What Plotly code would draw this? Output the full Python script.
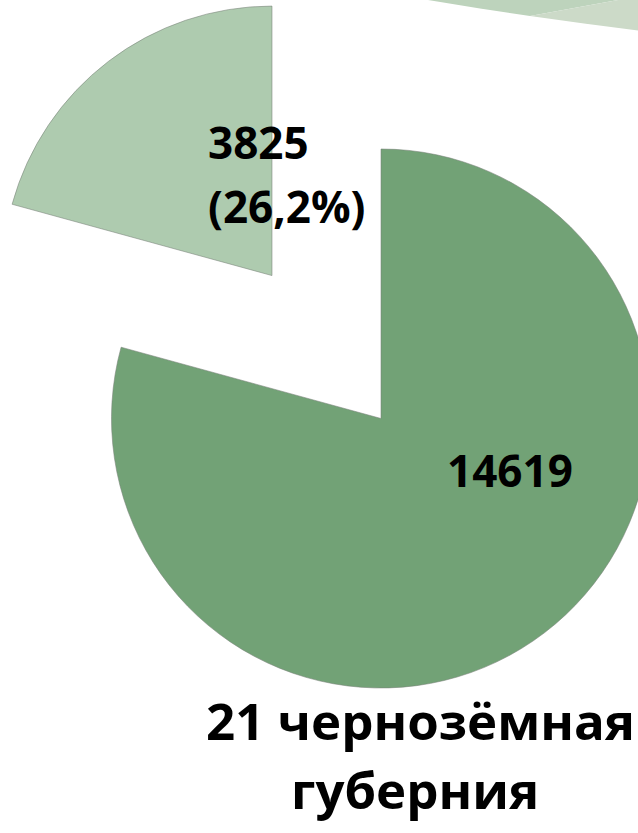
import math
import plotly.graph_objects as go

# ---- data ----
categories = ["Группа B", "Группа A"]
values = [14619, 3825]
value_labels = ["14619", "3825<br>(26,2%)"]
title_lines = ["21 чернозёмная", "губерния"]

# ---- styles ----
DARK = "#72a276"
LIGHT = "#aecbaf"
BORDER = "rgba(120,130,120,0.55)"
CLEAR = "rgba(0,0,0,0)"
FONT = "Open Sans"

W, H = 700, 833
CX, CY, R = 381, 418.5, 269.5
PULL = 0.667


def px(x):
    return x / W


def py(y):
    return 1 - y / H


def domain(cx, cy):
    return dict(x=[px(cx - R), px(cx + R)], y=[py(cy + R), py(cy - R)])


# offset of the pulled-out slice, from its share of the total (it ends at 12 o'clock)
half = math.pi * values[1] / sum(values)
dx = -PULL * R * math.sin(half)
dy = -PULL * R * math.cos(half)

common = dict(values=values, labels=categories, sort=False, direction="counterclockwise",
              rotation=0, textinfo="none", hoverinfo="skip", showlegend=False)

fig = go.Figure()
fig.add_trace(go.Pie(**common, domain=domain(CX, CY),
                     marker=dict(colors=[DARK, CLEAR],
                                 line=dict(color=[BORDER, CLEAR], width=[1, 0]))))
fig.add_trace(go.Pie(**common, domain=domain(CX + dx, CY + dy),
                     marker=dict(colors=[CLEAR, LIGHT],
                                 line=dict(color=[CLEAR, BORDER], width=[0, 1]))))


def path(points):
    return "M " + " L ".join(f"{px(x):.5f},{py(y):.5f}" for x, y in points) + " Z"


# faded edge of a neighbouring chart, cut off at the top
shapes = [
    dict(type="path", xref="paper", yref="paper", layer="below", line=dict(width=0),
         fillcolor="#bdd3bc",
         path=path([(418, -10), (428, 0), (480, 8.5), (530, 16), (673, -10)])),
    dict(type="path", xref="paper", yref="paper", layer="below", line=dict(width=0),
         fillcolor="#ccdac8",
         path=path([(530, 16), (584, 23.5), (638, 30.5), (700, 38.5), (700, -10), (673, -10)])),
]

lab_font = dict(family=FONT, size=44, color="black", weight=700)
tit_font = dict(family=FONT, size=51, color="black", weight=700)
small_lines = value_labels[1].split("<br>")

annotations = [
    dict(text=value_labels[0], x=px(510), y=py(470), xanchor="center", yanchor="middle",
         showarrow=False, xref="paper", yref="paper", font=lab_font),
    dict(text=small_lines[0], x=px(206), y=py(142), xanchor="left", yanchor="middle",
         showarrow=False, xref="paper", yref="paper", font=lab_font),
    dict(text=small_lines[1], x=px(206), y=py(206), xanchor="left", yanchor="middle",
         showarrow=False, xref="paper", yref="paper", font=lab_font),
    dict(text=title_lines[0], x=px(420), y=py(720), xanchor="center", yanchor="middle",
         showarrow=False, xref="paper", yref="paper", font=tit_font),
    dict(text=title_lines[1], x=px(415), y=py(789), xanchor="center", yanchor="middle",
         showarrow=False, xref="paper", yref="paper", font=tit_font),
]

fig.update_layout(width=W, height=H, margin=dict(l=0, r=0, t=0, b=0),
                  paper_bgcolor="white", plot_bgcolor="white",
                  shapes=shapes, annotations=annotations)

fig.write_html("out.html", config={"displayModeBar": False},
               post_script="document.body.style.margin='0';document.body.style.overflow='hidden';"
                           "document.documentElement.style.overflow='hidden';")
